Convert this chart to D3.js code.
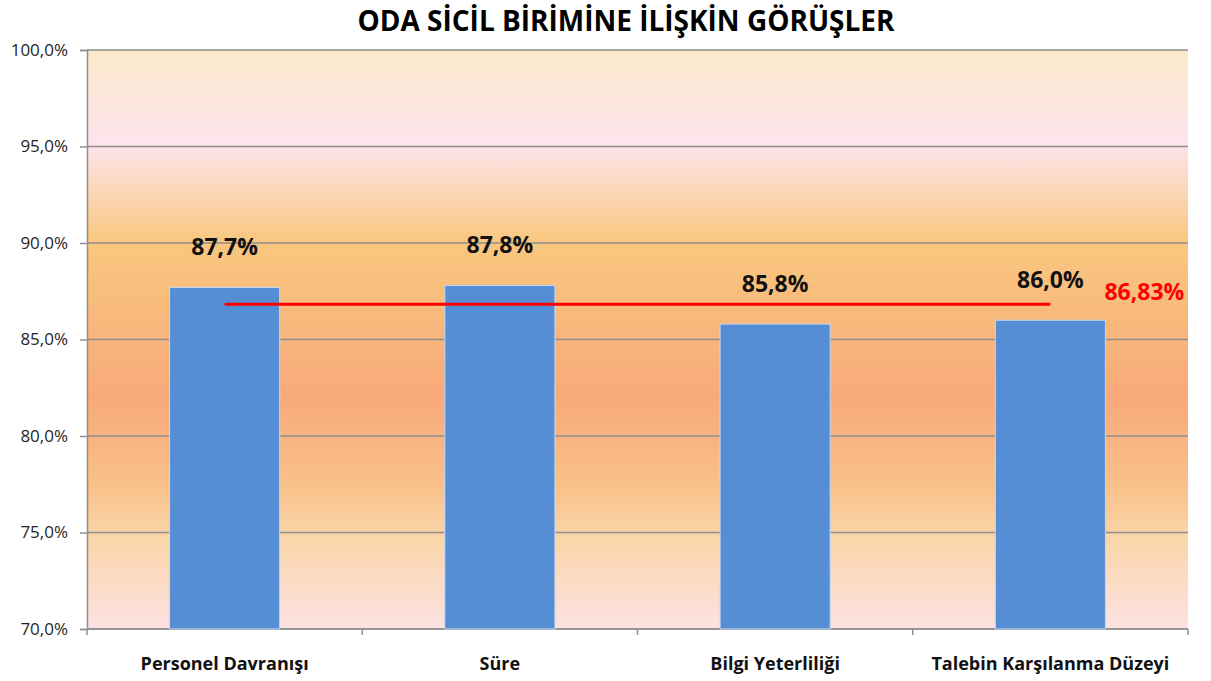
<!DOCTYPE html>
<html lang="tr">
<head>
<meta charset="UTF-8">
<title>Oda Sicil Birimine İlişkin Görüşler</title>
<script src="https://d3js.org/d3.v7.min.js"></script>
<style>
    body { margin: 0; background: #fff; }
    text { font-family: "Open Sans", "Noto Sans", sans-serif; }
</style>
</head>
<body>
<div id="chart"></div>
<script>
// chart data
const categories = ["Personel Davranışı", "Süre", "Bilgi Yeterliliği", "Talebin Karşılanma Düzeyi"];
const scores = [87.7, 87.8, 85.8, 86.0];
const valueLabels = ["87,7%", "87,8%", "85,8%", "86,0%"];
const average = 86.83;
const averageLabel = "86,83%";
const yTicks = [70, 75, 80, 85, 90, 95, 100];
const title = "ODA SİCİL BİRİMİNE İLİŞKİN GÖRÜŞLER";

const W = 1211, H = 681;
const margin = { top: 50, right: 23, bottom: 52, left: 87 };
const innerW = W - margin.left - margin.right;
const innerH = H - margin.top - margin.bottom;

const trLocale = d3.formatLocale({ decimal: ",", thousands: ".", grouping: [3], currency: ["", " ₺"] });
const pct = trLocale.format(".1f");

const svg = d3.select("#chart").append("svg")
    .attr("width", W)
    .attr("height", H);

// background gradient of the plot area
const defs = svg.append("defs");
const grad = defs.append("linearGradient")
    .attr("id", "bgGrad")
    .attr("x1", 0).attr("y1", 0).attr("x2", 0).attr("y2", 1);
[
    [0, "#fbe9c9"], [0.16, "#fde4ee"], [0.33, "#f9c77f"], [0.45, "#f8ba7c"],
    [0.6, "#f8a97a"], [0.75, "#f9c08a"], [0.84, "#fad5a8"], [1, "#fde2e2"]
].forEach(s => grad.append("stop").attr("offset", s[0]).attr("stop-color", s[1]));

const g = svg.append("g").attr("transform", `translate(${margin.left},${margin.top})`);

const x = d3.scaleBand().domain(categories).range([0, innerW]).paddingInner(0.6).paddingOuter(0.3);
const xBand = d3.scaleBand().domain(categories).range([0, innerW]);
const y = d3.scaleLinear().domain([70, 100]).range([innerH, 0]);

g.append("rect")
    .attr("width", innerW)
    .attr("height", innerH)
    .attr("fill", "url(#bgGrad)");

// gridlines
g.selectAll(".grid").data(yTicks).enter().append("line")
    .attr("x1", 0).attr("x2", innerW)
    .attr("y1", d => y(d)).attr("y2", d => y(d))
    .attr("stroke", "#8e8e8e")
    .attr("stroke-width", 1.5);

// y axis
const yAxis = g.append("g")
    .call(d3.axisLeft(y).tickValues(yTicks).tickSize(7).tickPadding(12).tickFormat(d => pct(d) + "%"));
yAxis.select(".domain").attr("stroke", "#8e8e8e").attr("stroke-width", 1.5);
yAxis.selectAll(".tick line").attr("stroke", "#8e8e8e").attr("stroke-width", 1.5);
yAxis.selectAll(".tick text")
    .attr("fill", "#262626")
    .style("font-size", "17px");

// x axis line and boundary ticks
g.append("line")
    .attr("x1", 0).attr("x2", innerW)
    .attr("y1", innerH).attr("y2", innerH)
    .attr("stroke", "#8e8e8e").attr("stroke-width", 1.5);
const bounds = categories.map(c => xBand(c)).concat([innerW]);
g.selectAll(".xtick").data(bounds).enter().append("line")
    .attr("x1", d => d).attr("x2", d => d)
    .attr("y1", innerH).attr("y2", innerH + 6)
    .attr("stroke", "#8e8e8e").attr("stroke-width", 1.5);

g.selectAll(".xlabel").data(categories).enter().append("text")
    .attr("x", d => xBand(d) + xBand.bandwidth() / 2)
    .attr("y", innerH + 41)
    .attr("text-anchor", "middle")
    .attr("fill", "#111")
    .style("font-size", "18px")
    .style("font-weight", "bold")
    .text(d => d);

// bars
g.selectAll(".bar").data(scores).enter().append("rect")
    .attr("x", (d, i) => x(categories[i]))
    .attr("y", d => y(d))
    .attr("width", x.bandwidth())
    .attr("height", d => innerH - y(d))
    .attr("fill", "#558ed5")
    .attr("stroke", "#c9d9ef")
    .attr("stroke-width", 1);

// value labels
g.selectAll(".vlabel").data(scores).enter().append("text")
    .attr("x", (d, i) => x(categories[i]) + x.bandwidth() / 2)
    .attr("y", d => y(d) - 32)
    .attr("text-anchor", "middle")
    .attr("fill", "#111")
    .style("font-size", "23px")
    .style("font-weight", "bold")
    .text((d, i) => valueLabels[i]);

// average line
const firstC = xBand(categories[0]) + xBand.bandwidth() / 2;
const lastC = xBand(categories[categories.length - 1]) + xBand.bandwidth() / 2;
g.append("line")
    .attr("x1", firstC).attr("x2", lastC)
    .attr("y1", y(average)).attr("y2", y(average))
    .attr("stroke", "#ff0000")
    .attr("stroke-width", 3);

g.append("text")
    .attr("x", lastC + 94)
    .attr("y", y(average) - 4)
    .attr("text-anchor", "middle")
    .attr("fill", "#ff0000")
    .style("font-size", "23px")
    .style("font-weight", "bold")
    .text(averageLabel);

// title
svg.append("text")
    .attr("x", 626)
    .attr("y", 31)
    .attr("text-anchor", "middle")
    .attr("fill", "#000")
    .style("font-size", "28px")
    .style("font-weight", "bold")
    .text(title);
</script>
</body>
</html>
